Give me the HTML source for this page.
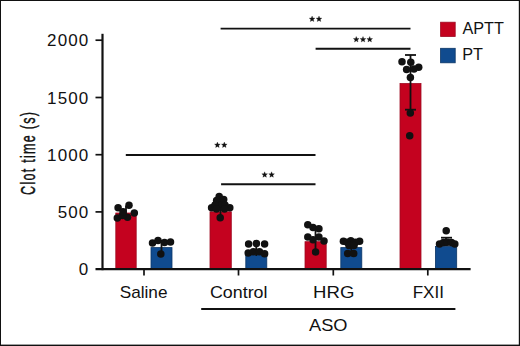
<!DOCTYPE html>
<html><head><meta charset="utf-8">
<style>
html,body{margin:0;padding:0;background:#fff;}
body{width:520px;height:346px;overflow:hidden;}
svg{display:block;}
text{font-family:"Liberation Sans",sans-serif;fill:#111;}
.tl{font-size:17px;letter-spacing:1.1px;}
.xl{font-size:17px;}
.st{font-size:12px;}
</style></head><body>
<svg width="520" height="346" viewBox="0 0 520 346">
<rect x="0" y="0" width="520" height="346" fill="#fff"/>
<!-- border -->
<rect x="0" y="0" width="520" height="1" fill="#111"/>
<rect x="0" y="0" width="1" height="346" fill="#111"/>
<rect x="518.8" y="0" width="1.2" height="346" fill="#111"/>
<rect x="0" y="344.6" width="520" height="1.4" fill="#111"/>

<!-- y axis label -->
<text x="0" y="0" font-size="21" text-anchor="middle" stroke="#111" stroke-width="0.45" letter-spacing="2.1" transform="translate(35.3,152.8) rotate(-90) scale(0.6,1)">Clot time (s)</text>

<!-- y tick labels -->
<g class="tl" text-anchor="end">
<text x="89.3" y="46.2">2000</text>
<text x="89.3" y="103.5">1500</text>
<text x="89.3" y="160.7">1000</text>
<text x="89.3" y="218">500</text>
<text x="89.3" y="274.5">0</text>
</g>

<!-- bars -->
<g stroke-width="0.8">
<rect x="115.8" y="213" width="20.4" height="56" fill="#c4021f" stroke="#9e0a22"/>
<rect x="151" y="247.6" width="21" height="21.5" fill="#104b8f" stroke="#0b3566"/>
<rect x="210" y="211.8" width="21.3" height="57.3" fill="#c4021f" stroke="#9e0a22"/>
<rect x="245.8" y="252" width="21" height="17" fill="#104b8f" stroke="#0b3566"/>
<rect x="305" y="241.7" width="21.2" height="27.4" fill="#c4021f" stroke="#9e0a22"/>
<rect x="340.8" y="247.6" width="21" height="21.5" fill="#104b8f" stroke="#0b3566"/>
<rect x="400" y="83.5" width="21" height="185.6" fill="#c4021f" stroke="#9e0a22"/>
<rect x="435.4" y="246.5" width="21.3" height="22.6" fill="#104b8f" stroke="#0b3566"/>
</g>

<!-- axes -->
<g stroke="#111" fill="none">
<line x1="102.5" y1="33.8" x2="102.5" y2="270.2" stroke-width="2.2"/>
<line x1="95.5" y1="269.2" x2="470.6" y2="269.2" stroke-width="2.2"/>
<g stroke-width="1.7">
<line x1="95.5" y1="40.2" x2="102" y2="40.2"/>
<line x1="95.5" y1="97.5" x2="102" y2="97.5"/>
<line x1="95.5" y1="154.7" x2="102" y2="154.7"/>
<line x1="95.5" y1="211.9" x2="102" y2="211.9"/>
<line x1="144" y1="269" x2="144" y2="275.5"/>
<line x1="238.5" y1="269" x2="238.5" y2="275.5"/>
<line x1="333.3" y1="269" x2="333.3" y2="275.5"/>
<line x1="427.8" y1="269" x2="427.8" y2="275.5"/>
</g>
</g>

<!-- error bars -->
<g stroke="#111" stroke-width="1.8" fill="none">
<line x1="410.5" y1="55" x2="410.5" y2="110"/>
<line x1="405" y1="55" x2="416" y2="55"/>
<line x1="405" y1="109.7" x2="416" y2="109.7"/>
<line x1="446" y1="237.7" x2="446" y2="246"/>
<line x1="441" y1="237.7" x2="452" y2="237.7"/>
<line x1="126" y1="206" x2="126" y2="220"/>
<line x1="161.5" y1="240" x2="161.5" y2="254"/>
<line x1="220.5" y1="200" x2="220.5" y2="218"/>
<line x1="256.3" y1="244" x2="256.3" y2="256"/>
<line x1="315.5" y1="228" x2="315.5" y2="252"/>
<line x1="351.3" y1="241" x2="351.3" y2="254"/>
</g>

<!-- dots -->
<g fill="#111">
<!-- Saline APTT -->
<circle cx="118.1" cy="207.7" r="3.75"/>
<circle cx="129" cy="205.3" r="3.75"/>
<circle cx="134.3" cy="213" r="3.75"/>
<circle cx="117.3" cy="217.9" r="3.75"/>
<circle cx="127.5" cy="217.3" r="3.75"/>
<circle cx="122.5" cy="215.5" r="3.75"/>
<circle cx="123" cy="211.8" r="3.75"/>
<!-- Saline PT -->
<circle cx="152.5" cy="243" r="3.75"/>
<circle cx="158" cy="240.6" r="3.75"/>
<circle cx="164.5" cy="242.5" r="3.75"/>
<circle cx="170.5" cy="242" r="3.75"/>
<circle cx="160.8" cy="254" r="3.75"/>
<!-- Control APTT -->
<circle cx="219.2" cy="196.6" r="3.75"/>
<circle cx="216.6" cy="200.6" r="3.75"/>
<circle cx="223.7" cy="199.6" r="3.75"/>
<circle cx="211.6" cy="207.7" r="3.75"/>
<circle cx="229.8" cy="207.7" r="3.75"/>
<circle cx="220.2" cy="205.2" r="3.75"/>
<circle cx="215" cy="205" r="3.75"/>
<circle cx="225" cy="205" r="3.75"/>
<circle cx="220.2" cy="217.8" r="3.75"/>
<circle cx="216.5" cy="209" r="3.75"/>
<circle cx="224.5" cy="209" r="3.75"/>
<!-- Control PT -->
<circle cx="248.6" cy="244" r="3.75"/>
<circle cx="256.4" cy="243.6" r="3.75"/>
<circle cx="264.6" cy="244" r="3.75"/>
<circle cx="248.2" cy="253" r="3.75"/>
<circle cx="253.3" cy="251.8" r="3.75"/>
<circle cx="259.5" cy="251.8" r="3.75"/>
<circle cx="264.6" cy="253.8" r="3.75"/>
<!-- HRG APTT -->
<circle cx="307.8" cy="224.8" r="3.75"/>
<circle cx="313" cy="227.4" r="3.75"/>
<circle cx="318.9" cy="228.7" r="3.75"/>
<circle cx="307.8" cy="237.1" r="3.75"/>
<circle cx="313" cy="239.7" r="3.75"/>
<circle cx="318.9" cy="237.1" r="3.75"/>
<circle cx="324" cy="241" r="3.75"/>
<circle cx="315.6" cy="252" r="3.75"/>
<!-- HRG PT -->
<circle cx="343.4" cy="241.3" r="3.75"/>
<circle cx="350.8" cy="240.8" r="3.75"/>
<circle cx="359.6" cy="241.3" r="3.75"/>
<circle cx="347.1" cy="242.2" r="3.75"/>
<circle cx="355.4" cy="242.2" r="3.75"/>
<circle cx="347.7" cy="253.5" r="3.75"/>
<circle cx="353.7" cy="253.5" r="3.75"/>
<circle cx="349" cy="245.5" r="3.75"/>
<circle cx="354" cy="245.5" r="3.75"/>
<!-- FXII APTT -->
<circle cx="402" cy="61.7" r="3.75"/>
<circle cx="410.8" cy="62.2" r="3.75"/>
<circle cx="418.7" cy="67.3" r="3.75"/>
<circle cx="406.6" cy="69.6" r="3.75"/>
<circle cx="414" cy="69" r="3.75"/>
<circle cx="410.4" cy="77.5" r="3.75"/>
<circle cx="410.3" cy="113" r="3.75"/>
<circle cx="409.7" cy="135.7" r="3.75"/>
<!-- FXII PT -->
<circle cx="446.2" cy="230.8" r="3.75"/>
<circle cx="439.5" cy="244" r="3.75"/>
<circle cx="443.5" cy="242.5" r="3.75"/>
<circle cx="447.5" cy="242.2" r="3.75"/>
<circle cx="451.5" cy="242.5" r="3.75"/>
<circle cx="454.8" cy="244" r="3.75"/>
</g>

<!-- significance -->
<g stroke="#111" stroke-width="1.9">
<line x1="220.6" y1="28.6" x2="410.5" y2="28.6"/>
<line x1="315.6" y1="48.8" x2="410.5" y2="48.8"/>
<line x1="125.8" y1="155" x2="315.5" y2="155"/>
<line x1="221.1" y1="184.2" x2="315.5" y2="184.2"/>
<line x1="201.2" y1="309" x2="455.4" y2="309"/>
</g>
<defs><polygon id="star" points="0.00,-3.00 0.79,-1.09 2.85,-0.93 1.28,0.42 1.76,2.43 0.00,1.35 -1.76,2.43 -1.28,0.42 -2.85,-0.93 -0.79,-1.09"/></defs>
<g fill="#111" stroke="#111" stroke-width="0.3">
<use href="#star" x="312.10" y="19.10"/>
<use href="#star" x="319.00" y="19.10"/>
<use href="#star" x="356.25" y="39.50"/>
<use href="#star" x="363.00" y="39.50"/>
<use href="#star" x="369.70" y="39.50"/>
<use href="#star" x="217.40" y="145.10"/>
<use href="#star" x="224.30" y="145.10"/>
<use href="#star" x="264.65" y="174.80"/>
<use href="#star" x="271.60" y="174.80"/>
</g>

<!-- x labels -->
<g class="xl" text-anchor="middle">
<text x="143.6" y="297.8" textLength="47.8" lengthAdjust="spacingAndGlyphs">Saline</text>
<text x="238.7" y="297.8" textLength="57.6" lengthAdjust="spacingAndGlyphs">Control</text>
<text x="333.7" y="297.6" textLength="41.3" lengthAdjust="spacingAndGlyphs">HRG</text>
<text x="428.3" y="297.8" textLength="31.3" lengthAdjust="spacingAndGlyphs">FXII</text>
<text x="328.3" y="330.8" textLength="38.5" lengthAdjust="spacingAndGlyphs">ASO</text>
</g>

<!-- legend -->
<rect x="440.6" y="22.2" width="14.6" height="14.3" fill="#c4021f" stroke="#9e0a22" stroke-width="0.8"/>
<rect x="440.6" y="48.3" width="14.6" height="14.5" fill="#104b8f" stroke="#0b3566" stroke-width="0.8"/>
<g class="xl">
<text x="462.5" y="34.3" textLength="41.4" lengthAdjust="spacingAndGlyphs">APTT</text>
<text x="462.3" y="60.4" textLength="20.75" lengthAdjust="spacingAndGlyphs">PT</text>
</g>
</svg>
</body></html>
